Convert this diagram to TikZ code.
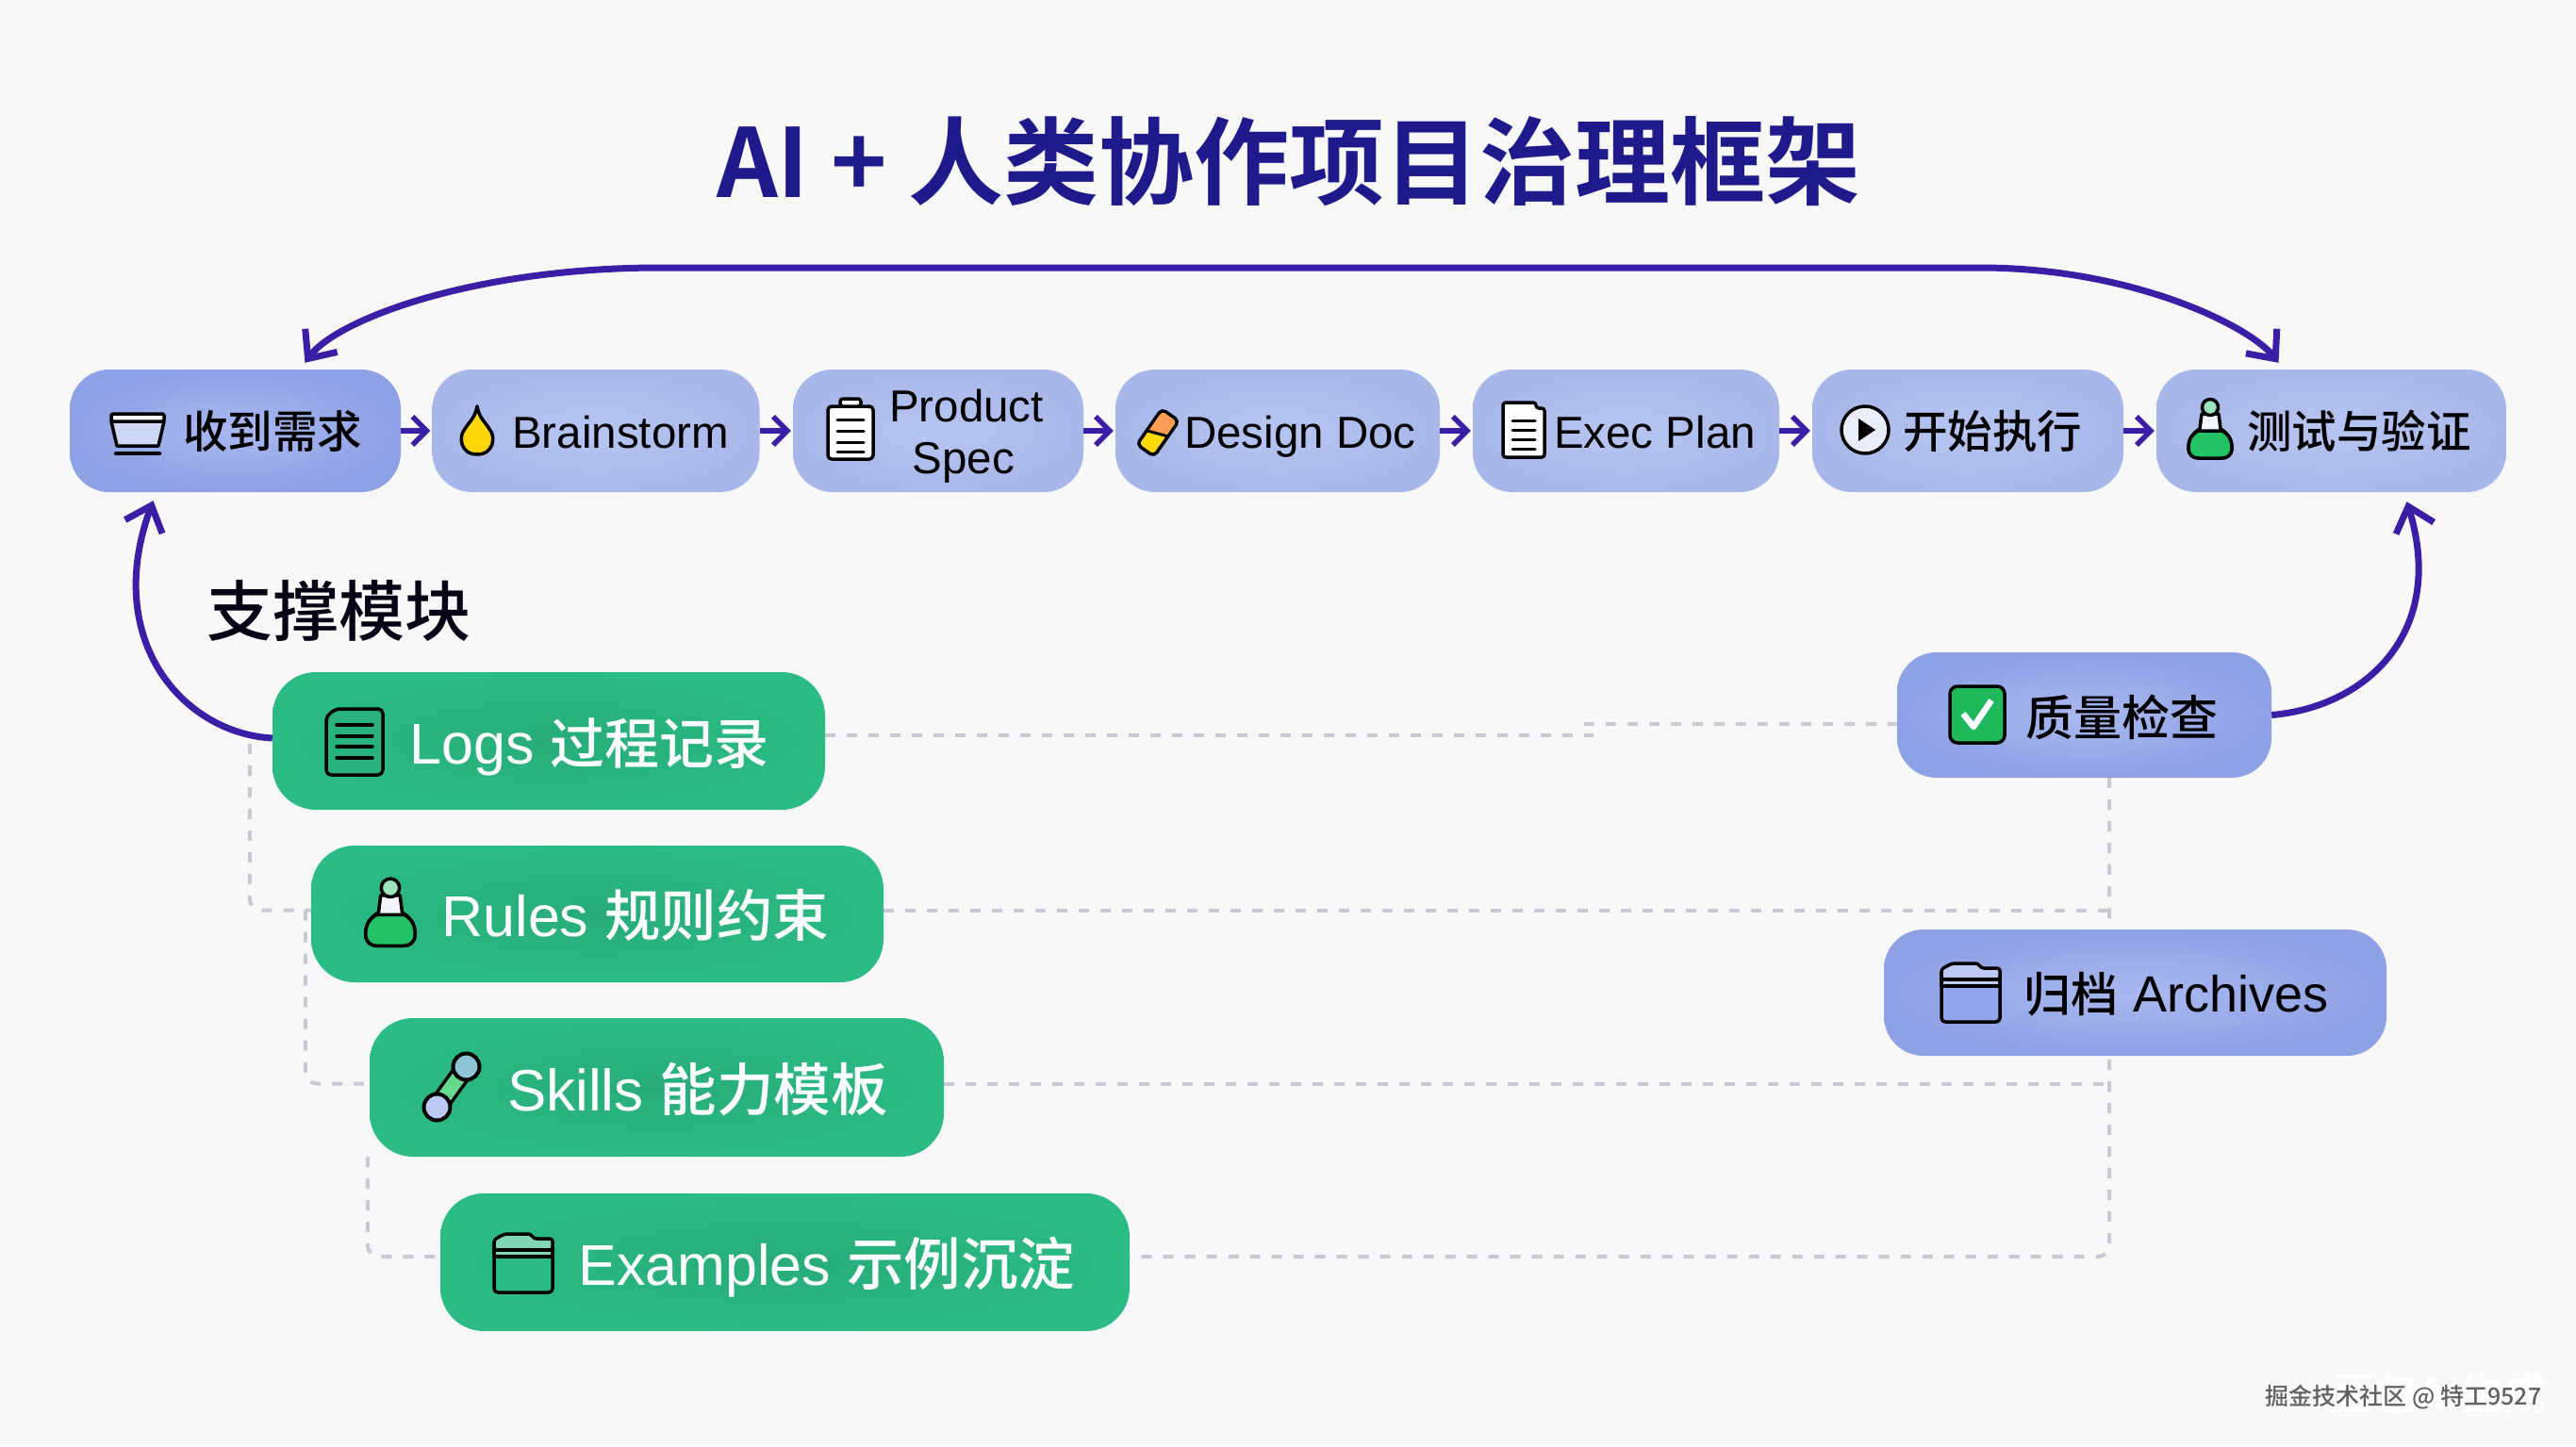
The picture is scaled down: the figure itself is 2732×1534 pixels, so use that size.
\documentclass[tikz,border=0pt]{standalone}
\usepackage{fontspec}
\setmainfont{Noto Sans CJK SC}[UprightFont=* Medium]
\newfontfamily\ltn{Liberation Sans}
\newfontfamily\ttlfont{Noto Sans CJK SC Bold}
\usetikzlibrary{arrows.meta,backgrounds,calc}
\definecolor{bgc}{HTML}{F8F8F8}
\definecolor{blueA}{HTML}{93A6EC}
\definecolor{blueB}{HTML}{ADBDF0}
\definecolor{greenbox}{HTML}{2BBB84}
\definecolor{flowc}{HTML}{3A1EA6}
\definecolor{titlec}{HTML}{1F1A8C}
\definecolor{dashc}{HTML}{C9C9D1}
\definecolor{checkg}{HTML}{1FB85A}
\definecolor{flaskg}{HTML}{22C265}
\definecolor{flamey}{HTML}{FFD60A}
\tikzset{
  box/.style={rectangle,rounded corners=42pt,draw=none,inner sep=0pt},
  stepA/.style={box,inner color=blueA!80!white!95!blueB,outer color=blueA!97!black},
  stepB/.style={box,inner color=blueB!88!white,outer color=blueB!97!black},
  stepG/.style={box,inner color=greenbox!92!black,outer color=greenbox,rounded corners=46pt},
  lab/.style={inner sep=0pt,text=black,align=center,anchor=base,font=\fontsize{47.5}{55}\selectfont},
  labG/.style={inner sep=0pt,text=white,anchor=base,font=\fontsize{58}{66}\selectfont},
  flow/.style={draw=flowc,line width=7pt,{Straight Barb[length=24pt,width=42pt,line width=7pt]}-{Straight Barb[length=24pt,width=42pt,line width=7pt]}},
  flowone/.style={draw=flowc,line width=7pt,-{Straight Barb[length=24pt,width=42pt,line width=7pt]}},
  hop/.style={draw=flowc,line width=5.5pt,-{Straight Barb[length=15pt,width=30pt,line width=5.5pt]},shorten >=2pt},
  dashln/.style={draw=dashc,line width=4pt,dash pattern=on 11pt off 12pt,rounded corners=12pt},
  ico/.style={draw=black,line width=3.5pt,line join=round,line cap=round},
  tray/.pic={
    \draw[ico,fill=blueB!60!white] (-28,-13)--(28,-13)--(22,13)--(-22,13)--cycle;
    \draw[ico,fill=white,rounded corners=2pt] (-28,-21) rectangle (28,-13);
    \draw[ico,line width=4.5pt] (-23,21)--(23,21);
  },
  flame/.pic={
    \draw[ico,fill=flamey] (0,-26) .. controls (2,-14) and (8,-10) .. (13,-2)
      .. controls (20,6) and (18,25) .. (0,25) .. controls (-18,25) and (-20,6) .. (-13,-2)
      .. controls (-8,-10) and (-2,-14) .. (0,-26) -- cycle;
  },
  clipb/.pic={
    \draw[ico,fill=white,rounded corners=4pt] (-24,-24) rectangle (24,32);
    \draw[ico,fill=white,rounded corners=3pt] (-11,-24) rectangle (11,-32);
    \foreach \yy in {-10,2,14,24}{\draw[ico,line width=3pt] (-14,\yy)--(14,\yy);}
  },
  eraser/.pic={
    \begin{scope}[rotate=-35]
      \draw[ico,fill=flamey!90!yellow,rounded corners=5pt] (-11,-23) rectangle (11,23);
      \fill[orange!55!pink,rounded corners=4pt] (-9,-21) -- (9,-21) -- (9,-3) -- (-9,4) -- cycle;
      \draw[ico,line width=3pt] (-11,5)--(11,-3);
    \end{scope}
  },
  docu/.pic={
    \draw[ico,fill=white,rounded corners=3pt] (-22,-29)--(13,-29)--(13,-23)--(22,-23)--(22,29)--(-22,29)--cycle;
    \foreach \yy in {-10,0,10,20}{\draw[ico,line width=3pt] (-12,\yy)--(12,\yy);}
  },
  playi/.pic={
    \draw[ico,fill=blueB!25!white] (0,0) circle (25pt);
    \fill[black] (-7,-12)--(11,0)--(-7,12)--cycle;
  },
  flask/.pic={
    \draw[ico,fill=white!85!blueB] (-9,-16)--(9,-16)--(11,0) .. controls (18,4) and (23,10) .. (23,20)
      .. controls (23,28) and (18,31) .. (12,31) -- (-12,31) .. controls (-18,31) and (-23,28) .. (-23,20)
      .. controls (-23,10) and (-18,4) .. (-11,0) -- cycle;
    \draw[ico,fill=#1!45!white] (0,-23) circle (8.5pt);
    \draw[ico,fill=#1] (-13,2) .. controls (-18,5) and (-23,10) .. (-23,20)
      .. controls (-23,28) and (-18,31) .. (-12,31) -- (12,31) .. controls (18,31) and (23,28) .. (23,20)
      .. controls (23,10) and (18,5) .. (13,2) -- cycle;
  },
  logdoc/.pic={
    \draw[ico,fill=greenbox!95!black,rounded corners=5pt] (-30,-27)--(-20,-35)--(30,-35)--(30,35)--(-30,35)--cycle;
    \foreach \yy in {-18,-6,5,17}{\draw[ico,line width=3.5pt] (-19,\yy)--(19,\yy);}
  },
  dumbb/.pic={
    \draw[black,line width=22pt] (-15.5,21.5)--(15.5,-21.5);
    \draw[green!50!teal!60!white,line width=15pt] (-15.5,21.5)--(15.5,-21.5);
    \draw[ico,line width=4pt,fill=cyan!35!teal!50!white] (15.5,-21.5) circle (14pt);
    \draw[ico,line width=4pt,fill=blueB!80!white] (-15.5,21.5) circle (14pt);
  },
  foldr/.pic={
    \draw[ico,fill=#1,rounded corners=4pt] (-31,-25) rectangle (31,31);
    \draw[ico,fill=#1!60!white,rounded corners=3pt] (-31,-14)--(-31,-25)--(-20,-31)--(8,-31)--(11,-26)--(31,-26)--(31,-14)--cycle;
    \draw[ico,fill=#1!60!white] (-31,-14) rectangle (31,-7);
  },
  checki/.pic={
    \draw[ico,fill=checkg,rounded corners=8pt] (-29,-30) rectangle (29,30);
    \draw[white,line width=6.5pt,line join=round] (-15,-1)--(-4,13)--(15,-15);
  },
}
\begin{document}
\begin{tikzpicture}[x=1pt,y=-1pt]
\useasboundingbox (0,0) rectangle (2732,1534);
\begin{scope}[on background layer]
  \fill[bgc] (0,0) rectangle (2732,1534);
\end{scope}

% title
\node[inner sep=0pt,text=titlec,font=\ttlfont\fontsize{101}{110}\selectfont] (title) at (1367,171) {AI + 人类协作项目治理框架};

% top row
\node[stepA,minimum width=351pt,minimum height=130pt] (b1) at (249.5,457) {};
\node[stepB,minimum width=347pt,minimum height=130pt] (b2) at (632,457) {};
\node[stepB,minimum width=308pt,minimum height=130pt] (b3) at (995,457) {};
\node[stepB,minimum width=344pt,minimum height=130pt] (b4) at (1355,457) {};
\node[stepB,minimum width=325pt,minimum height=130pt] (b5) at (1724.5,457) {};
\node[stepB,minimum width=330pt,minimum height=130pt] (b6) at (2087,457) {};
\node[stepB,minimum width=371pt,minimum height=130pt] (b7) at (2472.5,457) {};

\node[lab] (t1) at (289,475) {收到需求};
\node[lab] (t2) at (658,475) {\ltn Brainstorm};
\node[lab,anchor=base] (t3a) at (1025,447) {\ltn Product};
\node[lab,anchor=base] (t3b) at (1022,502) {\ltn Spec};
\node[lab] (t4) at (1379,475) {\ltn Design Doc};
\node[lab] (t5) at (1755,475) {\ltn Exec Plan};
\node[lab] (t6) at (2113,475) {开始执行};
\node[lab] (t7) at (2502,475) {测试与验证};

\pic at (146,460) {tray};
\pic at (506,457) {flame};
\pic at (902,455) {clipb};
\pic at (1228,459) {eraser};
\pic at (1616,456) {docu};
\pic at (1978,456) {playi};
\pic at (2344,455) {flask=flaskg};

% support modules
\node[inner sep=0pt,text=black!85!titlec,font=\fontsize{70}{78}\selectfont] (sup) at (359,648) {支撑模块};
\node[stepG,minimum width=586pt,minimum height=146pt] (logs) at (582,786) {};
\node[stepG,minimum width=607pt,minimum height=145pt] (rules) at (633.5,969.5) {};
\node[stepG,minimum width=609pt,minimum height=147pt] (skills) at (696.5,1153.5) {};
\node[stepG,minimum width=731pt,minimum height=146pt] (examples) at (832.5,1339) {};
\node[labG] (tl) at (625,810) {{\ltn\fontsize{61}{66}\selectfont Logs }过程记录};
\node[labG,font=\fontsize{59.5}{66}\selectfont] (tr) at (674,993) {{\ltn\fontsize{61}{66}\selectfont Rules }规则约束};
\node[labG,font=\fontsize{60.5}{66}\selectfont] (ts) at (740,1178) {{\ltn\fontsize{62}{66}\selectfont Skills }能力模板};
\node[labG,font=\fontsize{60.5}{66}\selectfont] (te) at (877,1363) {{\ltn\fontsize{61}{66}\selectfont Examples }示例沉淀};

\pic at (376,787) {logdoc};
\pic[scale=1.14] at (414,968) {flask=flaskg};
\pic at (479,1153) {dumbb};
\pic at (555,1340) {foldr=greenbox};

% right column
\node[stepA,minimum width=397pt,minimum height=133pt] (qc) at (2210.5,758.5) {};
\node[stepA,minimum width=533pt,minimum height=134pt] (arch) at (2264.5,1053) {};
\node[lab,font=\fontsize{51}{60}\selectfont] (tq) at (2250,780) {质量检查};
\node[lab,font=\fontsize{50}{60}\selectfont] (ta) at (2308,1073) {归档{\ltn\fontsize{54}{60}\selectfont{} Archives}};
\pic at (2097,758) {checki};
\pic at (2090,1053) {foldr=blueA};

% watermarks
\node[inner sep=0pt,text=white,font=\ttlfont\fontsize{46}{52}\selectfont] (wm1) at (2587,1478) {豆包AI生成};
\node[inner sep=0pt,text=black!62,font=\fontsize{25}{30}\selectfont] (wm2) at (2549,1482) {掘金技术社区 @ 特工9527};

% small arrows
\draw[hop] (b1) -- (b2);
\draw[hop] (b2) -- (b3);
\draw[hop] (b3) -- (b4);
\draw[hop] (b4) -- (b5);
\draw[hop] (b5) -- (b6);
\draw[hop] (b6) -- (b7);

% big arrows
\coordinate (tipL) at ([xshift=74pt,yshift=7pt]b1.north);
\coordinate (tipR) at ([xshift=-56pt,yshift=7pt]b7.north);
\coordinate (tipLL) at ([xshift=-87pt,yshift=-9pt]b1.south);
\coordinate (tipRR) at ([xshift=80pt,yshift=-10pt]b7.south);
\draw[flow] (tipL) .. controls (356,340) and (500,284) .. (700,284) -- (2100,284) .. controls (2260,284) and (2385,345) .. (tipR);
\draw[flowone] ([yshift=3pt]logs.west) .. controls (195,778) and (108,680) .. (tipLL);
\draw[flowone] (qc.east) .. controls (2510,750) and (2595,670) .. (tipRR);

% dashed connectors
\begin{scope}[on background layer]
  \coordinate (jx) at (2237,0);
  \coordinate (a1) at ([yshift=6pt]logs.east);
  \coordinate (a2) at (1690,780);
  \coordinate (a3) at (1680,768);
  \draw[dashln] (a1) -- (a2);
  \draw[dashln] (a3) -- (a3 -| qc.west);
  \draw[dashln] (qc.south -| jx) -- ([yshift=6pt]examples.east -| jx) -- ([yshift=6pt]examples.east);
  \draw[dashln] ([yshift=4pt]rules.east) -- ([yshift=4pt]rules.east -| jx);
  \draw[dashln] ([yshift=4pt]skills.east) -- ([yshift=4pt]skills.east -| jx);
  \draw[dashln] ([xshift=-24pt,yshift=-3pt]logs.west) -- ([xshift=-24pt,yshift=4pt]rules.west -| logs.west) -- ([yshift=4pt]rules.west);
  \draw[dashln] ([xshift=-6pt,yshift=4pt]rules.west) -- ([xshift=-6pt,yshift=4pt]skills.west -| rules.west) -- ([yshift=4pt]skills.west);
  \draw[dashln] ([xshift=-2pt]skills.south west) -- ([xshift=-2pt,yshift=6pt]examples.west -| skills.west) -- ([yshift=6pt]examples.west);
\end{scope}
\end{tikzpicture}
\end{document}
